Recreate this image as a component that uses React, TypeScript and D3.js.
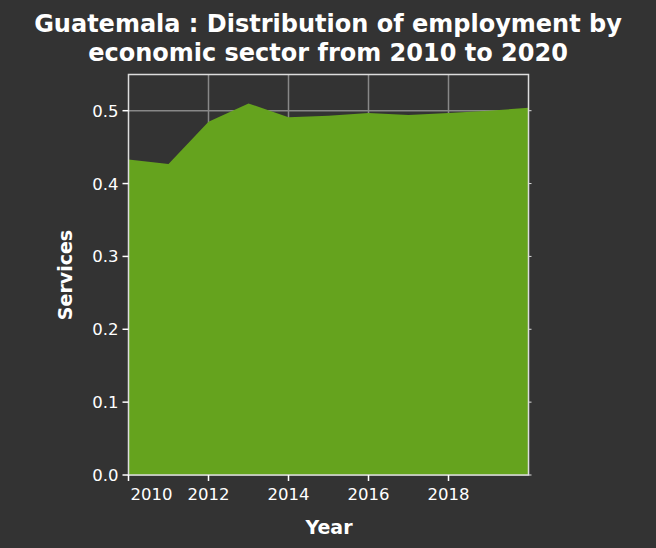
import React from "react";
import * as d3 from "d3";

const years = [2010, 2011, 2012, 2013, 2014, 2015, 2016, 2017, 2018, 2019, 2020];
const services = [0.433, 0.427, 0.485, 0.510, 0.491, 0.493, 0.497, 0.494, 0.497, 0.500, 0.504];
const xTicks = [2010, 2012, 2014, 2016, 2018];
const yTicks = [0, 0.1, 0.2, 0.3, 0.4, 0.5];

export default function App() {
  const W = 656, H = 548;
  const L = 128.5, R = 528.5, T = 74.5, B = 475;
  const x = d3.scaleLinear().domain([2010, 2020]).range([L, R]);
  const y = d3.scaleLinear().domain([0, 0.5]).range([B, 110.7]);
  const area = d3.area<number>().x((_, i) => x(years[i])).y0(y(0)).y1((d) => y(d));
  const font = "'DejaVu Sans', sans-serif";
  return (
    <svg width={W} height={H} style={{ position: "absolute", left: 0, top: 0, background: "#333333" }} fontFamily={font}>
      <rect width={W} height={H} fill="#333333" />
      <text x={W / 2} y={32} textAnchor="middle" fill="#fff" fontSize={24} fontWeight="bold">Guatemala : Distribution of employment by</text>
      <text x={W / 2} y={61} textAnchor="middle" fill="#fff" fontSize={24} fontWeight="bold">economic sector from 2010 to 2020</text>
      {yTicks.map((t) => (
        <line key={"gy" + t} x1={L} x2={R} y1={y(t)} y2={y(t)} stroke="#888" strokeWidth={1.5} />
      ))}
      {[2012, 2014, 2016, 2018].map((t) => (
        <line key={"gx" + t} x1={x(t)} x2={x(t)} y1={T} y2={B} stroke="#888" strokeWidth={1.5} />
      ))}
      <path d={area(services) || ""} fill="#65a31e" />
      <rect x={L} y={T} width={R - L} height={B - T} fill="none" stroke="#ddd" strokeWidth={1.5} />
      {yTicks.map((t) => (
        <g key={"ty" + t}>
          <line x1={L - 6} x2={L} y1={y(t)} y2={y(t)} stroke="#fff" strokeWidth={1.5} />
          <line x1={R} x2={R + 3} y1={y(t)} y2={y(t)} stroke="#ddd" strokeWidth={1} />
          <text x={L - 10} y={y(t) + 6} textAnchor="end" fill="#fff" fontSize={16.5}>{t.toFixed(1)}</text>
        </g>
      ))}
      {xTicks.map((t, i) => (
        <g key={"tx" + t}>
          <line x1={x(t)} x2={x(t)} y1={B} y2={B + 6} stroke="#fff" strokeWidth={1.5} />
          <text x={i === 0 ? x(t) + 2 : x(t)} y={B + 25} textAnchor={i === 0 ? "start" : "middle"} fill="#fff" fontSize={16.5}>{t}</text>
        </g>
      ))}
      <text x={329} y={534} textAnchor="middle" fill="#fff" fontSize={19} fontWeight="bold">Year</text>
      <text transform={`translate(72,275) rotate(-90)`} textAnchor="middle" fill="#fff" fontSize={19} fontWeight="bold">Services</text>
    </svg>
  );
}
